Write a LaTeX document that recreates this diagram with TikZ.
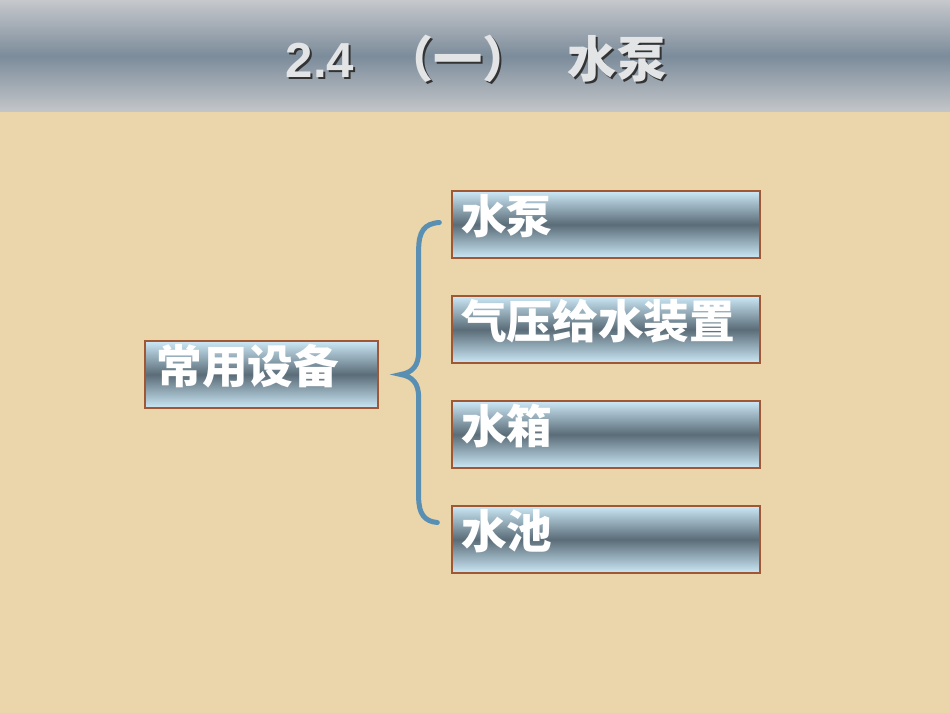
\documentclass[tikz,border=0pt]{standalone}
\usepackage{fontspec}
\newfontfamily\cjk{Noto Sans CJK SC}
\newfontfamily\latin{Liberation Sans}
\usetikzlibrary{positioning, calc}

\definecolor{parchment}{RGB}{234,214,170}
\definecolor{bartop}{RGB}{198,200,204}
\definecolor{barmid}{RGB}{124,140,155}
\definecolor{barbot}{RGB}{196,198,201}
\definecolor{boxlight}{RGB}{204,232,246}
\definecolor{boxdark}{RGB}{90,108,120}
\definecolor{boxedge}{RGB}{160,88,52}
\definecolor{bracecol}{RGB}{90,143,180}
\definecolor{titlecol}{RGB}{226,228,230}

\begin{document}
\begin{tikzpicture}[
        x=0.02cm, y=-0.02cm,
        box/.style={draw=boxedge, line width=0.8pt, top color=boxlight, bottom color=boxlight,
            middle color=boxdark, minimum width=6.16cm, minimum height=1.34cm, inner sep=0pt,
            text width=5.8cm, text depth=0.42cm, align=left, text=white,
            font=\cjk\bfseries\fontsize{26}{26}\selectfont},
        brace/.style={draw=bracecol, line width=0.1cm, line cap=round},
        heading/.style={anchor=base, text=titlecol, font=\bfseries\fontsize{28}{28}\selectfont},
        shadow/.style={anchor=base, text=black!80, font=\bfseries\fontsize{28}{28}\selectfont},
    ]

    % Background and title bar
    \useasboundingbox (0,0) rectangle (950,713);
    \fill[parchment] (0,0) rectangle (950,713);
    \shade[top color=bartop, bottom color=barbot, middle color=barmid] (0,0) rectangle (950,112);

    % Draw the title (shadow first)
    \foreach \name / \x / \txt in {num/320/{\latin 2.4}, par/458/{\cjk （一）}, pump/617/{\cjk 水泵}} {
        \node[shadow] (title-\name-s) at (\x+2,80) {\txt};
        \node[heading] (title-\name) at (\x,78) {\txt};
    }

    % Draw the left box
    \node[box, minimum width=4.66cm, text width=4.2cm] (dev) at (261.5,374.5) {常用设备};

    % Draw the right boxes
    \foreach \name / \txt in {1/水泵, 2/气压给水装置, 3/水箱, 4/水池}
        \node[box] (B-\name) at (606,224.5+\name*105-105) {\txt};

    % Brace joining the left box to the right boxes
    \coordinate (br-top) at ($(B-1.west)+(-12,-2)$);
    \coordinate (br-bot) at ($(B-4.west)+(-14,-17)$);
    \coordinate (br-tip) at ($(dev.east)+(22,0)$);
    \draw[brace] (br-top) .. controls +(-15,1) and +(0,-18) .. ($(br-tip)+(18,-125)$)
        -- ($(br-tip)+(18,-23)$) .. controls +(0,14) and +(12,-2) .. (br-tip)
        .. controls +(12,2) and +(0,-14) .. ($(br-tip)+(18,23)$)
        -- ($(br-tip)+(18,123)$) .. controls +(0,16) and +(-13,-1) .. (br-bot);
\end{tikzpicture}
\end{document}
